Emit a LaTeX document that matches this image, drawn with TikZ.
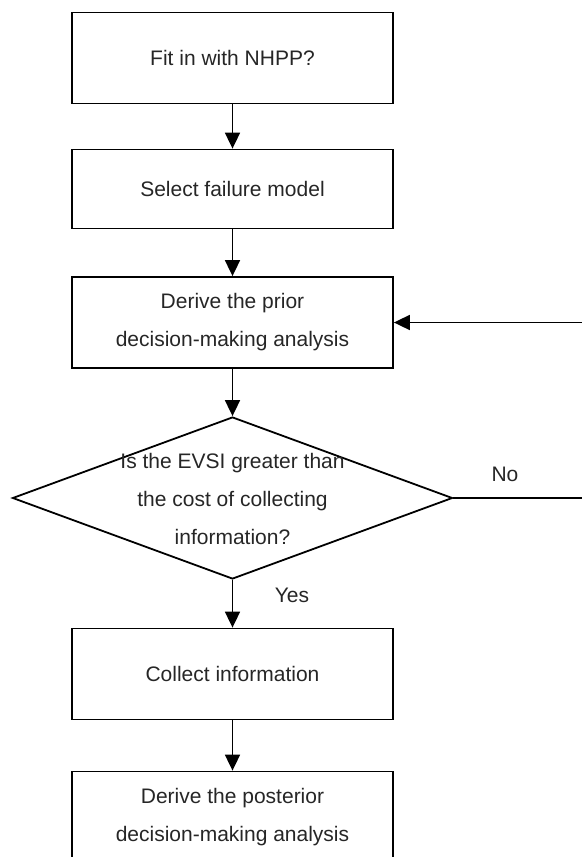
\documentclass[tikz,border=0pt]{standalone}
\usepackage{fontspec}
\setmainfont{Liberation Sans}
\usetikzlibrary{arrows.meta,shapes.geometric}
\tikzset{
  stepbox/.style={draw, line width=0.9pt, minimum width=160.5pt, minimum height=45.5pt, align=center, inner sep=0pt, text=black!85},
  flow/.style={line width=0.9pt, -{Triangle[width=7.5pt,length=8pt]}}
}
\begin{document}
\begin{tikzpicture}[x=0.5pt,y=-0.5pt,font=\fontsize{10.5}{19}\selectfont]
        \useasboundingbox (0,0) rectangle (582,857);
        \clip (0,0) rectangle (582,857);

        \node[stepbox] (fit) at (232.5,58) {Fit in with NHPP?};
        \node[stepbox, minimum height=39.5pt] (model) at (232.5,189) {Select failure model};
        \node[stepbox] (prior) at (232.5,322.5) {Derive the prior\\decision-making analysis};
        \node[diamond, draw, line width=0.9pt, aspect=2.7, minimum width=220pt, minimum height=81pt, inner sep=0pt] (evsi) at (232.5,498) {};
        \node[align=center, text=black!85] (evsitext) at (232.5,499) {Is the EVSI greater than\\the cost of collecting\\information?};
        \node[stepbox] (collect) at (232.5,674) {Collect information};
        \node[stepbox] (post) at (232.5,817) {Derive the posterior\\decision-making analysis};

        \coordinate (turn) at (586,0);

        \draw[flow] (fit) -- (model);
        \draw[flow] (model) -- (prior);
        \draw[flow] (prior) -- (evsi);
        \draw[flow] (evsi) -- (collect);
        \draw[flow] (collect) -- (post);
        \draw[flow] (evsi.east) -- (evsi.east -| turn) |- (prior.east);

        \node[text=black!85] (no) at (505,474) {No};
        \node[text=black!85] (yes) at (292,595) {Yes};
    \end{tikzpicture}
\end{document}
